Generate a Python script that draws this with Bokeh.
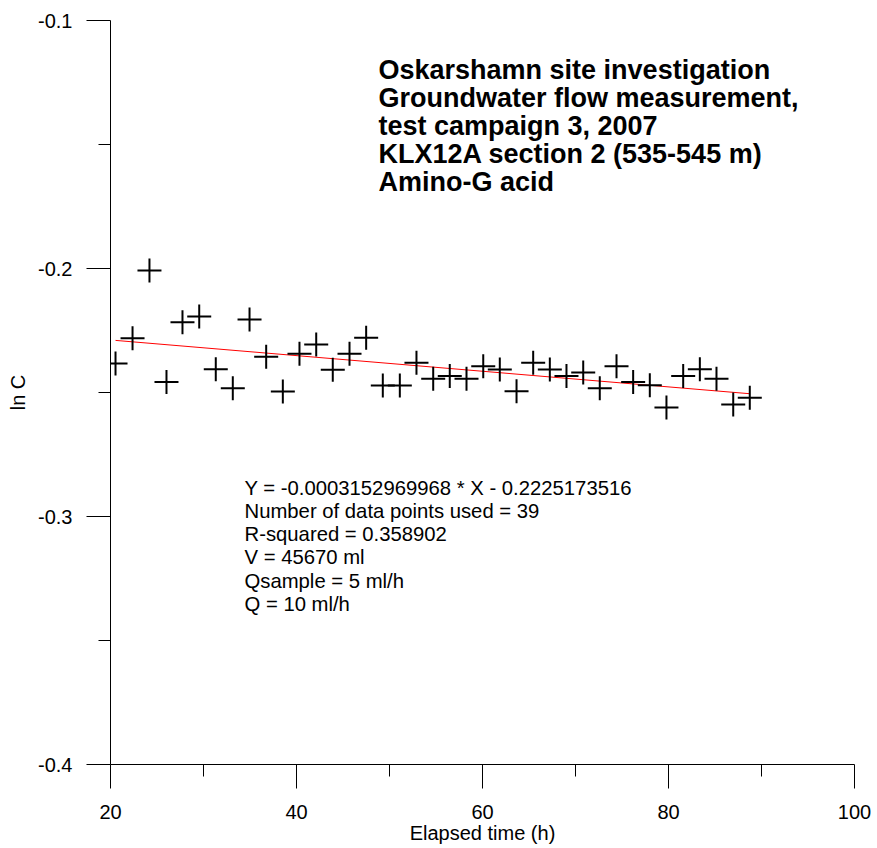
from bokeh.plotting import figure
from bokeh.models import FixedTicker, Label, Range1d
from bokeh.embed import file_html
from bokeh.resources import INLINE

# Data
elapsed_h = [20.54, 22.37, 24.19, 26.02, 27.74, 29.54, 31.32, 33.15, 34.95, 36.74,
             38.53, 40.32, 42.12, 43.90, 45.70, 47.49, 49.28, 51.11, 52.90, 54.70,
             56.48, 58.28, 60.08, 61.86, 63.66, 65.45, 67.24, 69.03, 70.83, 72.61,
             74.41, 76.20, 77.99, 79.78, 81.58, 83.37, 85.16, 86.96, 88.74]
ln_c = [-0.2383, -0.2281, -0.2008, -0.2458, -0.2217, -0.2194, -0.2406, -0.2483, -0.2206, -0.2356,
        -0.2496, -0.2344, -0.2306, -0.2408, -0.2344, -0.2279, -0.2472, -0.2472, -0.2380, -0.2445,
        -0.2433, -0.2445, -0.2394, -0.2407, -0.2495, -0.2380, -0.2407, -0.2433, -0.2419, -0.2483,
        -0.2394, -0.2458, -0.2471, -0.2560, -0.2433, -0.2406, -0.2445, -0.2548, -0.2521]

fit_slope = -0.0003152969968
fit_intercept = -0.2225173516

x_ticks = [20, 40, 60, 80, 100]
x_minor_ticks = [30, 50, 70, 90]
y_ticks = [-0.4, -0.3, -0.2, -0.1]
y_minor_ticks = [-0.35, -0.25, -0.15]

title_lines = ["Oskarshamn site investigation",
               "Groundwater flow measurement,",
               "test campaign 3, 2007",
               "KLX12A section 2 (535-545 m)",
               "Amino-G acid"]
info_lines = ["Y = -0.0003152969968 * X - 0.2225173516",
              "Number of data points used = 39",
              "R-squared = 0.358902",
              "V = 45670 ml",
              "Qsample = 5 ml/h",
              "Q = 10 ml/h"]

FONT = "Liberation Sans"

p = figure(width=874, height=836, output_backend="svg", toolbar_location=None,
           x_range=Range1d(20, 100), y_range=Range1d(-0.4, -0.1),
           min_border_left=110, min_border_right=20, min_border_top=20, min_border_bottom=72)
p.frame_width = 744
p.frame_height = 744
p.outline_line_color = None
p.grid.visible = False
p.background_fill_color = "white"
p.border_fill_color = "white"

# regression line
fx = [min(elapsed_h), max(elapsed_h)]
fy = [fit_slope * v + fit_intercept for v in fx]
p.line(fx, fy, line_color="red", line_width=1)

p.scatter(elapsed_h, ln_c, marker="cross", size=24, line_width=2, line_color="black")

for ax in (p.xaxis[0], p.yaxis[0]):
    ax.axis_line_color = "black"
    ax.axis_line_width = 1
    ax.major_tick_line_color = "black"
    ax.minor_tick_line_color = "black"
    ax.major_tick_out = 24
    ax.major_tick_in = 0
    ax.minor_tick_out = 12
    ax.minor_tick_in = 0
    ax.major_label_text_font = FONT
    ax.major_label_text_font_size = "20px"
    ax.major_label_text_color = "black"
    ax.axis_label_text_font = FONT
    ax.axis_label_text_font_size = "20px"
    ax.axis_label_text_font_style = "normal"
    ax.axis_label_text_color = "black"

p.xaxis[0].ticker = FixedTicker(ticks=x_ticks, minor_ticks=x_minor_ticks)
p.yaxis[0].ticker = FixedTicker(ticks=y_ticks, minor_ticks=y_minor_ticks)
p.xaxis[0].major_label_overrides = {t: str(t) for t in x_ticks}
p.yaxis[0].major_label_overrides = {t: f"{t:.1f}" for t in y_ticks}
p.xaxis[0].major_label_standoff = 16
p.yaxis[0].major_label_standoff = 14
p.xaxis[0].axis_label = "Elapsed time (h)"
p.yaxis[0].axis_label = "ln C"
p.xaxis[0].axis_label_standoff = 0
p.yaxis[0].axis_label_standoff = 6

p.add_layout(Label(x=268, y=710, x_units="screen", y_units="screen",
                   text="\n".join(title_lines), text_font=FONT, text_font_size="27px",
                   text_font_style="bold", text_color="black", text_baseline="top",
                   text_align="left", text_line_height=0.9385))
p.add_layout(Label(x=134, y=288, x_units="screen", y_units="screen",
                   text="\n".join(info_lines), text_font=FONT, text_font_size="20.3px",
                   text_color="black", text_baseline="top", text_align="left",
                   text_line_height=1.058))

open("out.html", "w").write(file_html(p, INLINE))
